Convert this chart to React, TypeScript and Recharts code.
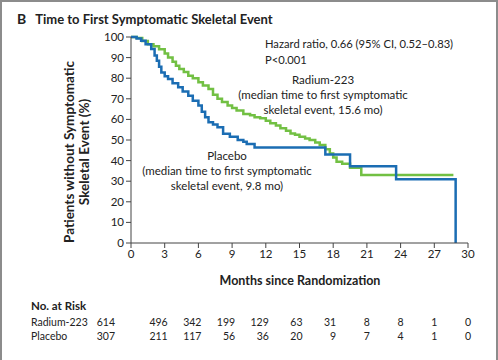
import { LineChart, Line, XAxis, YAxis } from "recharts";

// Kaplan-Meier steps (months, % without event)
const radiumMonths = [
  0, 0.5, 1.0, 1.5, 2.0, 2.5, 3.0, 3.3, 3.7, 4.0, 4.3, 4.7, 5.1, 5.5, 6.0, 6.4,
  6.9, 7.3, 7.7, 8.1, 8.6, 9.0, 9.4, 10.0, 10.6, 11.0, 11.5, 12.0, 12.4, 12.9,
  13.3, 13.8, 14.2, 14.6, 15.0, 15.5, 15.9, 16.4, 16.8, 17.3, 17.7, 18.0, 18.3,
  18.8, 19.5, 20.5, 28.7,
];
const radiumPct = [
  100, 99.5, 98, 96.5, 95.5, 94, 92, 90, 88, 86, 84.5, 83, 81.2, 80, 78, 76.5,
  74.8, 72, 70, 68.5, 66.7, 65.5, 64.3, 62.6, 62, 61, 60.5, 59.3, 58.1, 57,
  55.7, 54.5, 53.2, 52.5, 51.6, 50.7, 50, 48.8, 47.6, 45.5, 43.5, 41.5, 39.5,
  38.5, 36.5, 33, 33,
];

const placeboMonths = [
  0, 0.5, 0.9, 1.3, 1.8, 2.1, 2.3, 2.5, 2.7, 3.0, 3.3, 3.7, 4.2, 4.6, 5.1, 5.5,
  6.0, 6.3, 6.6, 6.9, 7.3, 7.7, 8.2, 8.8, 9.5, 10.0, 10.3, 11.0, 17.3, 19.5,
  23.6, 28.9,
];
const placeboPct = [
  100, 99.3, 98.2, 96.5, 94.2, 91, 88.5, 85.5, 82.8, 81, 79.6, 77.5, 75.6, 73.5,
  71.5, 69, 66.7, 63.7, 61, 58.6, 57.5, 56.2, 53, 51.6, 50, 49.2, 48.1, 46.4,
  43, 37.3, 31, 0,
];

const monthTicks = [0, 3, 6, 9, 12, 15, 18, 21, 24, 27, 30];
const pctTicks = [0, 10, 20, 30, 40, 50, 60, 70, 80, 90, 100];

const riskRadium = [614, 496, 342, 199, 129, 63, 31, 8, 8, 1, 0];
const riskPlacebo = [307, 211, 117, 56, 36, 20, 9, 7, 4, 1, 0];

const radiumData = radiumMonths.map((t, i) => ({ t, v: radiumPct[i] }));
const placeboData = placeboMonths.map((t, i) => ({ t, v: placeboPct[i] }));

const GREEN = "#72c043";
const BLUE = "#1b6db3";
const FONT = "Lato, 'Open Sans', sans-serif";

// plot box in page pixels, used to line up the at-risk table
const PLOT_LEFT = 131;
const PLOT_RIGHT = 468;
const monthX = (m: number) => PLOT_LEFT + (m / 30) * (PLOT_RIGHT - PLOT_LEFT);

const centered = (x: number, y: number, extra: any = {}) => ({
  position: "absolute" as const,
  left: x,
  top: y,
  transform: "translate(-50%, -50%)",
  whiteSpace: "nowrap" as const,
  ...extra,
});

export default function App() {
  const tickStyle = { fill: "#222", fontSize: 11.5, fontFamily: FONT };
  return (
    <div
      style={{
        position: "absolute",
        left: 0,
        top: 0,
        width: 498,
        height: 360,
        boxSizing: "border-box",
        borderTop: "2px solid #8c8c8c",
        borderLeft: "2px solid #8c8c8c",
        borderRight: "2px solid #8c8c8c",
        background: "#fff",
        fontFamily: FONT,
        color: "#222",
        overflow: "hidden",
      }}
    >
      <div style={{ position: "absolute", left: -2, top: -2 }}>
        <LineChart
          width={498}
          height={300}
          margin={{ top: 37, right: 30, left: 91, bottom: 27 }}
        >
          <XAxis
            dataKey="t"
            type="number"
            domain={[0, 30]}
            ticks={monthTicks}
            allowDuplicatedCategory={false}
            height={30}
            tickSize={5}
            tick={tickStyle}
            stroke="#444"
            interval={0}
          />
          <YAxis
            type="number"
            domain={[0, 100]}
            ticks={pctTicks}
            width={40}
            tickSize={5}
            tick={tickStyle}
            stroke="#444"
            interval={0}
          />
          <Line
            data={radiumData}
            dataKey="v"
            type="stepAfter"
            stroke={GREEN}
            strokeWidth={2.5}
            dot={false}
            activeDot={false}
            isAnimationActive={false}
          />
          <Line
            data={placeboData}
            dataKey="v"
            type="stepAfter"
            stroke={BLUE}
            strokeWidth={2.5}
            dot={false}
            activeDot={false}
            isAnimationActive={false}
          />
        </LineChart>
      </div>

      <div style={{ position: "absolute", left: 15, top: 8, fontWeight: 700, fontSize: 13 }}>
        <span style={{ fontSize: 14 }}>B</span>
        <span style={{ marginLeft: 9 }}>Time to First Symptomatic Skeletal Event</span>
      </div>

      <div
        style={centered(75, 150, {
          transform: "translate(-50%, -50%) rotate(-90deg)",
          fontWeight: 700,
          fontSize: 13.5,
          textAlign: "center",
          lineHeight: "15px",
        })}
      >
        Patients without Symptomatic
        <br />
        Skeletal Event (%)
      </div>

      <div style={centered(298, 278, { fontWeight: 700, fontSize: 12.5 })}>
        Months since Randomization
      </div>

      <div style={{ position: "absolute", left: 263, top: 34, fontSize: 11.2, lineHeight: "16px" }}>
        Hazard ratio, 0.66 (95% CI, 0.52–0.83)
        <br />
        P&lt;0.001
      </div>

      <div style={centered(321, 92, { fontSize: 11.5, lineHeight: "15px", textAlign: "center" })}>
        Radium-223
        <br />
        (median time to first symptomatic
        <br />
        skeletal event, 15.6 mo)
      </div>

      <div style={centered(225, 168, { fontSize: 11.5, lineHeight: "15px", textAlign: "center" })}>
        Placebo
        <br />
        (median time to first symptomatic
        <br />
        skeletal event, 9.8 mo)
      </div>

      <div style={{ position: "absolute", left: 29, top: 297, fontWeight: 700, fontSize: 11.5 }}>
        No. at Risk
      </div>
      <div style={{ position: "absolute", left: 29, top: 314, fontSize: 10.5 }}>Radium-223</div>
      <div style={{ position: "absolute", left: 29, top: 328, fontSize: 10.5 }}>Placebo</div>
      {monthTicks.map((m, i) => {
        const right = i === 0 ? monthX(m) - 16 : monthX(m) + 3;
        return (
          <div key={m}>
            <div style={{ position: "absolute", right: 496 - right, top: 314, fontSize: 10.5 }}>
              {riskRadium[i]}
            </div>
            <div style={{ position: "absolute", right: 496 - right, top: 328, fontSize: 10.5 }}>
              {riskPlacebo[i]}
            </div>
          </div>
        );
      })}
    </div>
  );
}
